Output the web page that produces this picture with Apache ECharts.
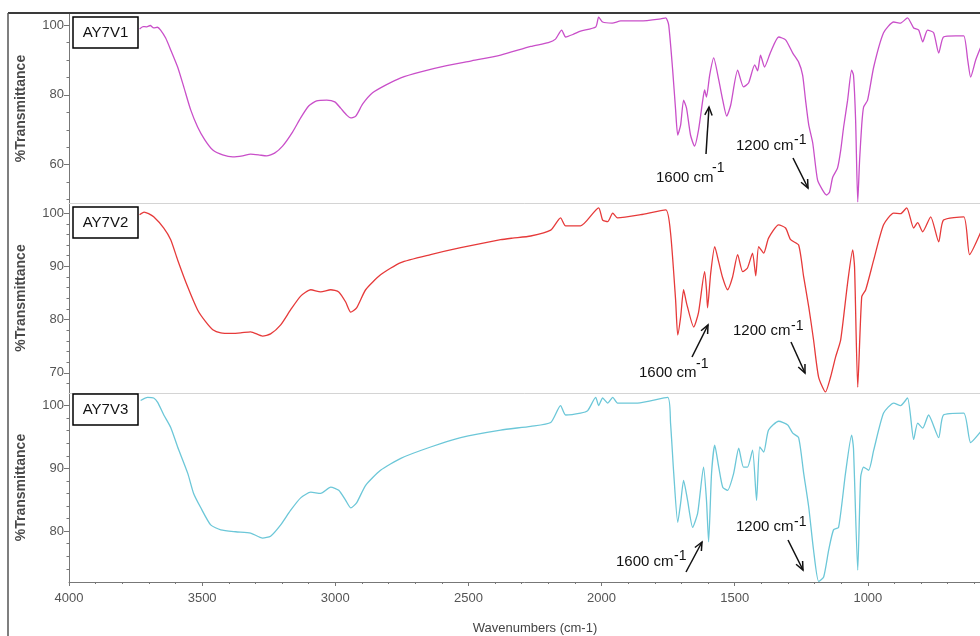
<!DOCTYPE html>
<html><head><meta charset="utf-8">
<script src="https://cdn.jsdelivr.net/npm/echarts@6/dist/echarts.min.js"></script>
<style>html,body{margin:0;padding:0;background:#fff}#c{width:980px;height:636px}</style>
</head><body><div id="c"></div><script>
// ---------- data ----------
const sampleNames = ['AY7V1', 'AY7V2', 'AY7V3'];
const xTickStep = 500;            // wavenumber label step
const xRange = [500, 4000];
const yRange1 = [49.0, 103.2];
const yRange2 = [66.2, 101.9];
const yRange3 = [71.9, 102.0];
const yMajor1 = [100, 80, 60];
const yMajor2 = [100, 90, 80, 70];
const yMajor3 = [100, 90, 80];
const yMinor1 = [50, 55, 60, 65, 70, 75, 80, 85, 90, 95, 100];
const yMinor2 = [68, 70, 72, 74, 76, 78, 80, 82, 84, 86, 88, 90, 92, 94, 96, 98, 100];
const yMinor3 = [74, 76, 78, 80, 82, 84, 86, 88, 90, 92, 94, 96, 98, 100];

// [wavenumber cm-1, %T]
const spectrumAY7V1 = [
[3735,98.9],[3722,99.6],[3708,99.5],[3695,99.9],[3682,99.2],[3668,99.4],[3656,98.6],[3637,96.3],[3618,92.9],[3592,88.0],[3569,82.3],[3543,75.7],[3517,70.8],
[3490,67.1],[3460,64.2],[3423,62.8],[3385,62.2],[3348,62.5],[3318,63.0],[3288,62.8],[3258,62.5],[3228,63.3],[3198,65.3],
[3160,69.4],[3130,73.4],[3100,76.8],[3070,78.3],[3032,78.5],[3002,78.0],[2980,76.2],[2957,74.2],[2942,73.4],[2923,73.9],
[2897,77.4],[2860,80.6],[2811,82.8],[2754,84.9],[2679,86.6],[2586,88.3],[2492,89.7],[2379,91.4],[2266,93.9],[2200,95.0],[2173,96.0],
[2150,98.6],[2135,96.6],[2105,97.4],[2079,98.3],[2022,99.5],[2011,102.3],[1996,100.9],[1960,100.6],[1928,101.2],[1853,101.2],[1778,101.8],[1759,102.1],
[1748,100.1],[1733,87.1],[1722,75.7],[1714,68.5],[1703,71.4],[1692,78.5],[1681,76.2],[1666,68.5],[1651,65.3],[1636,69.9],
[1620,78.5],[1613,81.4],[1606,79.4],[1594,85.7],[1579,90.6],[1560,84.3],[1545,78.5],[1530,73.9],[1515,77.1],[1489,87.1],
[1467,82.3],[1448,83.4],[1425,88.6],[1414,86.9],[1403,91.4],[1388,88.0],[1365,92.3],[1335,96.6],[1309,95.8],[1282,92.0],
[1260,89.4],[1245,85.7],[1234,78.5],[1222,71.4],[1207,66.2],[1189,55.6],[1170,52.7],[1155,51.3],[1144,52.1],[1132,56.4],
[1114,59.0],[1102,64.1],[1091,70.8],[1076,78.5],[1061,87.1],[1054,85.7],[1046,72.8],[1038,49.3],[1031,61.3],[1023,71.4],
[1016,76.5],[1001,78.5],[978,88.0],[941,97.8],[903,100.9],[877,100.6],[851,102.1],[828,99.2],[809,98.6],[794,95.2],
[776,98.6],[753,97.8],[734,92.0],[716,96.6],[670,96.9],[640,96.9],[625,90.0],[614,85.1],[595,90.0],[577,93.5]
];
const spectrumAY7V2 = [
[3735,99.7],[3718,100.2],[3701,99.9],[3682,99.3],[3644,97.2],[3618,95.0],[3592,91.2],[3554,86.1],[3517,81.8],[3487,79.6],[3460,78.1],
[3430,77.5],[3390,77.4],[3355,77.5],[3318,77.7],[3273,76.9],[3243,77.3],[3205,79.0],[3168,81.8],[3130,84.4],[3092,85.6],[3055,85.2],
[3017,85.6],[2987,85.2],[2961,83.3],[2942,81.4],[2920,82.2],[2886,85.6],[2830,88.4],[2754,90.7],[2642,92.2],[2529,93.5],
[2379,95.0],[2334,95.3],[2266,95.7],[2191,96.8],[2154,99.1],[2135,97.6],[2079,97.6],[2011,101.0],[1996,98.7],[1977,98.4],
[1958,100.0],[1940,99.1],[1853,99.7],[1759,100.6],[1741,96.3],[1722,83.7],[1714,77.1],[1703,80.5],[1692,85.6],[1681,83.1],
[1654,78.6],[1636,81.3],[1613,89.0],[1606,85.6],[1602,82.2],[1590,88.8],[1575,93.7],[1560,90.8],[1545,87.8],[1527,85.6],
[1508,88.0],[1489,92.2],[1470,89.0],[1452,89.7],[1433,92.5],[1421,88.2],[1410,93.7],[1391,92.5],[1373,95.3],[1335,97.8],
[1309,97.2],[1290,95.0],[1260,94.0],[1241,88.0],[1222,82.4],[1204,76.2],[1185,69.2],[1159,66.4],[1140,69.2],[1121,73.0],
[1102,76.2],[1076,86.9],[1057,93.1],[1050,89.9],[1038,67.3],[1023,84.3],[1008,85.6],[978,91.2],[941,97.8],[903,100.0],
[877,99.9],[854,101.0],[828,97.2],[813,98.2],[794,96.5],[764,99.3],[734,94.6],[716,98.7],[640,99.3],[618,92.2],[577,96.3]
];
const spectrumAY7V3 = [
[3731,100.8],[3705,101.3],[3682,101.2],[3667,100.5],[3644,98.5],[3618,96.5],[3592,93.4],[3554,89.2],[3532,86.0],[3506,83.8],
[3468,81.0],[3430,80.2],[3374,79.9],[3318,79.7],[3273,78.9],[3243,79.2],[3205,81.0],[3168,83.3],[3130,85.3],[3092,86.2],
[3055,86.0],[3017,87.0],[2987,86.5],[2961,84.9],[2942,83.7],[2920,84.5],[2886,87.3],[2830,89.7],[2754,91.6],[2642,93.4],
[2529,94.9],[2379,96.1],[2266,96.7],[2191,97.3],[2154,100.0],[2135,98.5],[2079,98.8],[2052,99.2],[2022,101.3],[2011,100.0],
[1996,101.2],[1977,100.4],[1958,101.3],[1940,100.4],[1865,100.4],[1752,101.3],[1741,97.2],[1729,89.2],[1714,81.4],[1703,84.5],
[1692,88.1],[1677,84.9],[1658,80.6],[1639,82.9],[1617,90.2],[1606,84.9],[1598,78.3],[1587,89.2],[1575,93.7],[1560,90.2],
[1545,87.0],[1527,86.5],[1504,89.2],[1485,93.2],[1467,90.2],[1452,90.2],[1433,92.9],[1418,84.9],[1406,93.4],[1391,92.6],
[1373,96.1],[1335,97.5],[1301,96.9],[1282,95.6],[1260,94.9],[1241,89.2],[1222,83.8],[1204,77.0],[1185,72.0],[1166,72.7],
[1147,77.0],[1129,80.2],[1110,80.6],[1084,89.2],[1061,95.3],[1054,93.2],[1038,73.8],[1027,88.6],[1016,90.2],[997,89.7],
[978,92.9],[941,98.8],[903,100.4],[877,100.0],[851,101.2],[828,94.6],[813,97.2],[794,96.4],[772,98.5],[734,94.9],
[716,98.5],[640,98.8],[614,94.1],[577,95.8]
];
const spectra = [spectrumAY7V1, spectrumAY7V2, spectrumAY7V3];
const annotationText = ['1600 cm', '1200 cm'];
const supText = '-1';

// ---------- styling / layout ----------
const colors = ['#c94fc9', '#e63a3a', '#6cc7d8'];
const NARROW = '"Liberation Sans Narrow","Liberation Sans",Arial,sans-serif';
const SANS = '"Liberation Sans",Arial,sans-serif';
const grids = [
  {left: 69, top: 14, width: 932, height: 189, outerBoundsMode: 'none', containLabel: false},
  {left: 69, top: 203, width: 932, height: 190, outerBoundsMode: 'none', containLabel: false},
  {left: 69, top: 393, width: 932, height: 189, outerBoundsMode: 'none', containLabel: false}
];
const yRanges = [yRange1, yRange2, yRange3];
const yMajors = [yMajor1, yMajor2, yMajor3];
const yMinors = [yMinor1, yMinor2, yMinor3];
const axisGrey = '#777';

const xAxes = grids.map((g, i) => {
  const bottom = i === 2;
  return {
    gridIndex: i, type: 'value', min: xRange[0], max: xRange[1], interval: xTickStep, inverse: true,
    axisLine: {show: true, onZero: false, lineStyle: {color: bottom ? axisGrey : '#d4d4d4', width: 1}},
    axisTick: {show: bottom, length: 4, lineStyle: {color: axisGrey}},
    minorTick: {show: bottom, splitNumber: 5, length: 2, lineStyle: {color: axisGrey}},
    axisLabel: {show: bottom, fontSize: 13, color: '#555', fontFamily: NARROW, margin: 10, formatter: v => String(v)},
    splitLine: {show: false},
    name: bottom ? 'Wavenumbers (cm-1)' : '', nameLocation: 'middle', nameGap: 40,
    nameTextStyle: {fontSize: 13, color: '#444', fontFamily: NARROW}
  };
});
const yAxes = [];
grids.forEach((g, i) => {
  yAxes.push({
    gridIndex: i, type: 'value', min: yRanges[i][0], max: yRanges[i][1], position: 'left',
    axisLine: {show: true, onZero: false, lineStyle: {color: axisGrey, width: 1}},
    axisTick: {show: true, customValues: yMajors[i], length: 5, lineStyle: {color: axisGrey}},
    axisLabel: {customValues: yMajors[i], fontSize: 13, color: '#555', fontFamily: NARROW, margin: 5, formatter: v => String(v)},
    splitLine: {show: false},
    name: '%Transmittance', nameLocation: 'middle', nameGap: 41,
    nameTextStyle: {fontSize: 14, fontWeight: 'bold', color: '#4a4a4a', fontFamily: SANS}
  });
  yAxes.push({
    gridIndex: i, type: 'value', min: yRanges[i][0], max: yRanges[i][1], position: 'left',
    axisLine: {show: false}, axisLabel: {show: false}, splitLine: {show: false},
    axisTick: {show: true, customValues: yMinors[i], length: 2.5, lineStyle: {color: axisGrey}}
  });
});
const series = spectra.map((d, i) => ({
  type: 'line', name: sampleNames[i], xAxisIndex: i, yAxisIndex: i * 2, data: d,
  showSymbol: false, symbol: 'none', smooth: 0.2, clip: true,
  lineStyle: {color: colors[i], width: 1.3}, animation: false
}));

// annotation helpers
function arrow(x1, y1, x2, y2) {
  const a = Math.atan2(y2 - y1, x2 - x1), L = 9, w = 0.42;
  return [
    {type: 'line', z: 20, shape: {x1, y1, x2, y2}, style: {stroke: '#111', lineWidth: 1.5}},
    {type: 'polyline', z: 20, shape: {points: [
      [x2 - L * Math.cos(a - w), y2 - L * Math.sin(a - w)], [x2, y2],
      [x2 - L * Math.cos(a + w), y2 - L * Math.sin(a + w)]]},
      style: {stroke: '#111', lineWidth: 1.5, fill: null}}
  ];
}
function label(txt, x, y, sx, sy) {
  return [
    {type: 'text', z: 20, x, y, style: {text: txt, fontSize: 15, fontFamily: SANS, fill: '#111', align: 'left', verticalAlign: 'middle'}},
    {type: 'text', z: 20, x: sx, y: sy, style: {text: supText, fontSize: 14, fontFamily: SANS, fill: '#111', align: 'left', verticalAlign: 'middle'}}
  ];
}
function box(name, x, y) {
  return [
    {type: 'rect', z: 30, shape: {x, y, width: 65, height: 31}, style: {fill: '#fff', stroke: '#000', lineWidth: 1.5}},
    {type: 'text', z: 31, x: x + 32.5, y: y + 16, style: {text: name, fontSize: 15, fontFamily: SANS, fill: '#111', align: 'center', verticalAlign: 'middle'}}
  ];
}
const graphics = [
  {type: 'line', z: 40, shape: {x1: 8, y1: 13, x2: 980, y2: 13}, style: {stroke: '#3a3a3a', lineWidth: 2}},
  {type: 'line', z: 40, shape: {x1: 8, y1: 13, x2: 8, y2: 636}, style: {stroke: '#555', lineWidth: 1.5}},
  ...box(sampleNames[0], 73, 17), ...box(sampleNames[1], 73, 207), ...box(sampleNames[2], 73, 394),
  ...label(annotationText[0], 656, 178, 712, 168), ...arrow(706, 154, 709, 107),
  ...label(annotationText[1], 736, 146, 794, 140), ...arrow(793, 158, 808, 188),
  ...label(annotationText[0], 639, 373, 696, 364), ...arrow(692, 357, 708, 325),
  ...label(annotationText[1], 733, 331, 791, 326), ...arrow(791, 342, 805, 373),
  ...label(annotationText[0], 616, 562, 674, 556), ...arrow(686, 572, 702, 542),
  ...label(annotationText[1], 736, 527, 794, 522), ...arrow(788, 540, 803, 570)
];

const chart = echarts.init(document.getElementById('c'), null, {renderer: 'canvas'});
chart.setOption({
  backgroundColor: '#fff', animation: false,
  grid: grids, xAxis: xAxes, yAxis: yAxes, series,
  graphic: graphics
});
</script></body></html>
